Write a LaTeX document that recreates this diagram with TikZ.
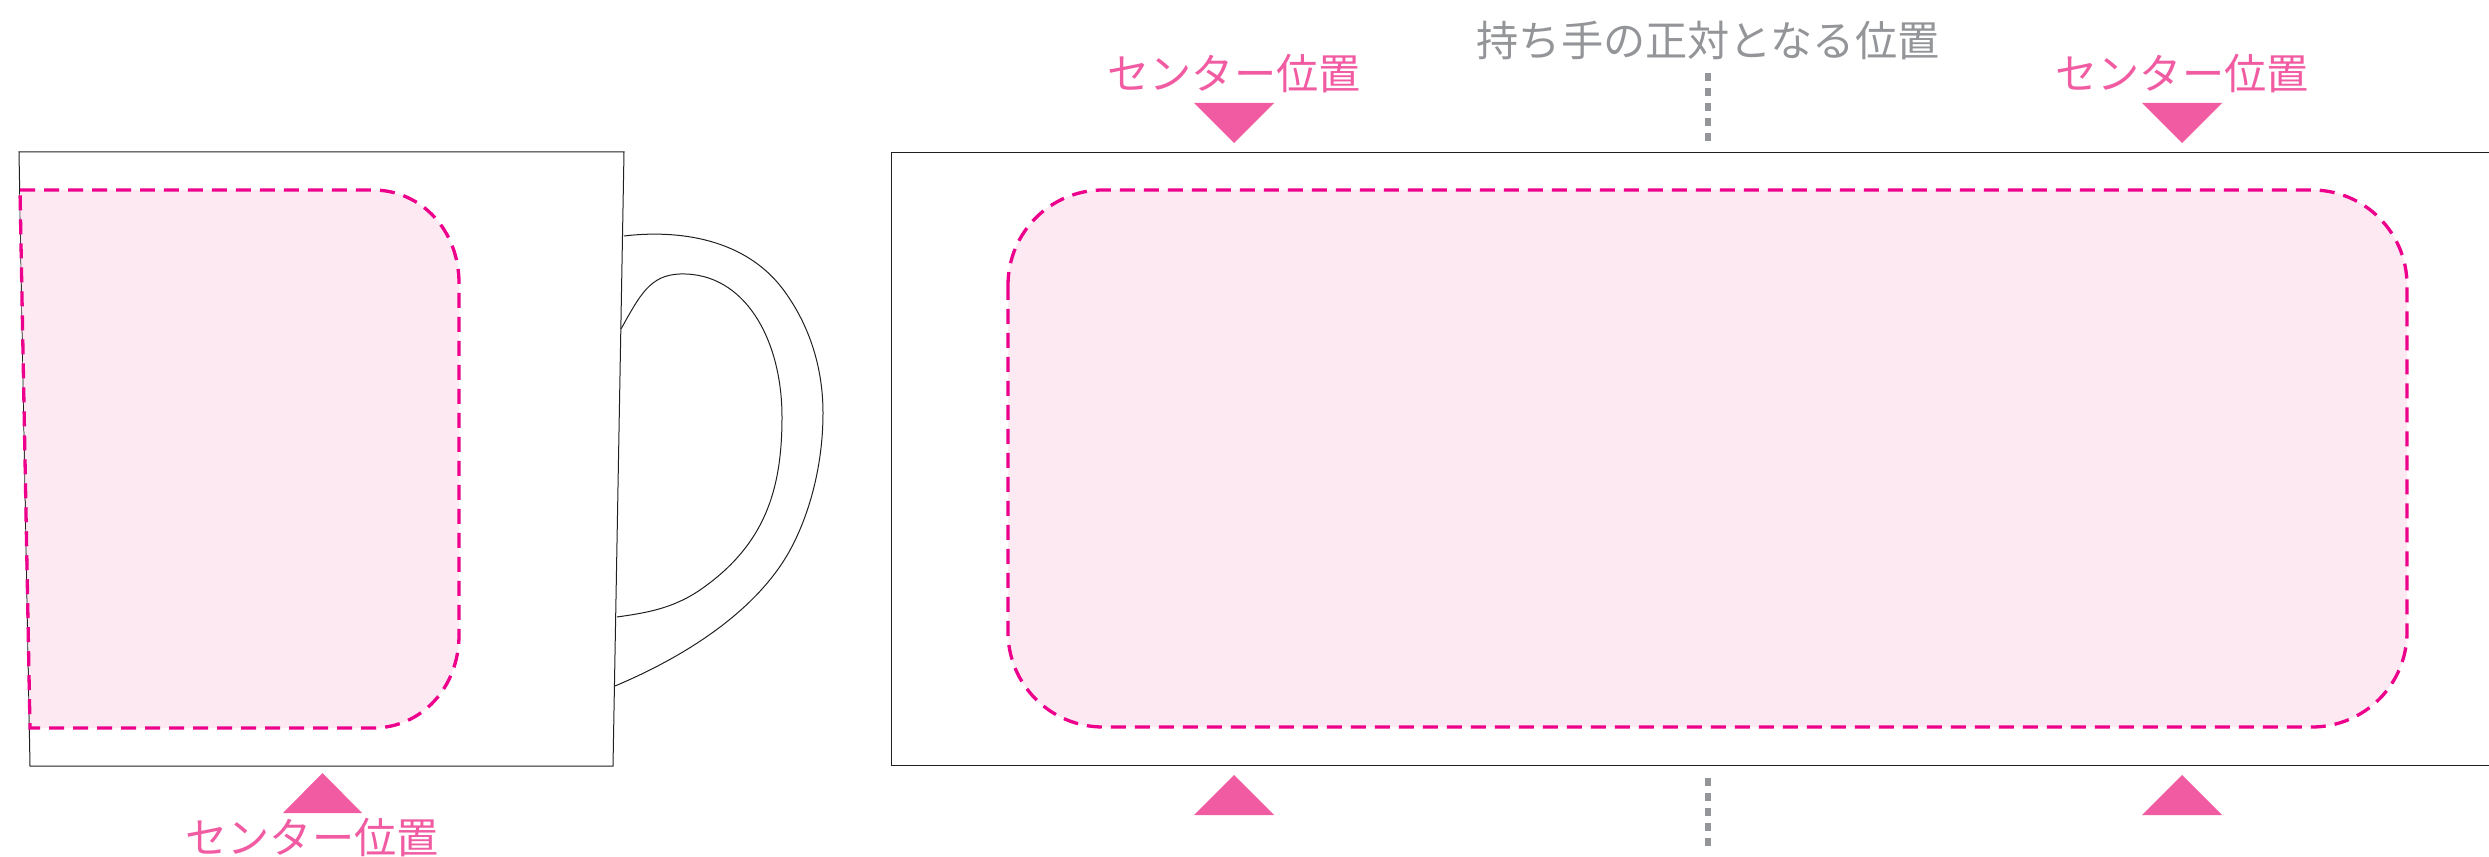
\documentclass[tikz,border=0pt]{standalone}
\usepackage{fontspec}
\newfontfamily\jpfont{Noto Sans CJK JP}
\definecolor{linecol}{HTML}{231F20}
\definecolor{dashcol}{HTML}{EC008C}
\definecolor{areacol}{HTML}{FCE9F1}
\definecolor{markcol}{HTML}{F15BA2}
\definecolor{graycol}{HTML}{939598}
\tikzset{
    outline/.style={draw=linecol, line width=0.1mm},
    printarea/.style={draw=dashcol, fill=areacol, line width=0.33mm, dash pattern=on 1.5mm off 0.9mm},
    marktri/.style={fill=markcol},
    marklabel/.style={text=markcol, font=\jpfont\fontsize{12}{14}\selectfont, inner sep=0pt},
    graylabel/.style={text=graycol, font=\jpfont\fontsize{12}{14}\selectfont, inner sep=0pt},
    graydash/.style={draw=graycol, line width=0.06cm, dash pattern=on 0.08cm off 0.07cm},
}
\begin{document}
\begin{tikzpicture}[x=0.1mm, y=-0.1mm]
    \useasboundingbox (0,0) rectangle (2489,857);
    % mug seen from the side
    \draw[outline] (624,236) .. controls (665,231) and (742,232) .. (785,292) .. controls (808,324) and (823,365) .. (823,413) .. controls (823,470) and (807,520) .. (789,552) .. controls (762,600) and (705,648) .. (615,686);
    \draw[outline] (621,329) .. controls (640,295) and (650,275) .. (680,274) .. controls (745,272) and (782,340) .. (782,417) .. controls (782,490) and (765,545) .. (700,590) .. controls (672,609) and (645,613) .. (617,617);
    \draw[outline] (19,152) -- (624,152) -- (613,766) -- (30,766) -- cycle;
    \draw[printarea] (20,190) -- (373,190) .. controls (421,190) and (459,230) .. (459,283) -- (459,635) .. controls (459,688) and (421,728) .. (373,728) -- (30,728) -- cycle;
    \fill[marktri] (283,813) -- (322.5,773) -- (362,813) -- cycle;
    \node[marklabel] (mugcenter) at (312,838) {センター位置};
    % unrolled surface
    \draw[outline] (891,153) rectangle (2520,765);
    \draw[printarea, rounded corners=9.5mm] (1008,190) rectangle (2407,727);
    \foreach \xpos/\name in {1234/lefttop, 2182/righttop} {
        \fill[marktri] (\xpos-40,103) -- (\xpos+40,103) -- (\xpos,143) -- cycle;
        \fill[marktri] (\xpos-40,815) -- (\xpos+40,815) -- (\xpos,775) -- cycle;
        \node[marklabel] (\name) at (\xpos,74) {センター位置};
    }
    % handle position
    \node[graylabel] (handlepos) at (1708,41) {持ち手の正対となる位置};
    \coordinate (toptop) at (1708,73);
    \coordinate (topend) at (1708,143);
    \coordinate (bottop) at (1708,778);
    \coordinate (botend) at (1708,848);
    \draw[graydash] (toptop) -- (topend);
    \draw[graydash] (bottop) -- (botend);
\end{tikzpicture}
\end{document}
